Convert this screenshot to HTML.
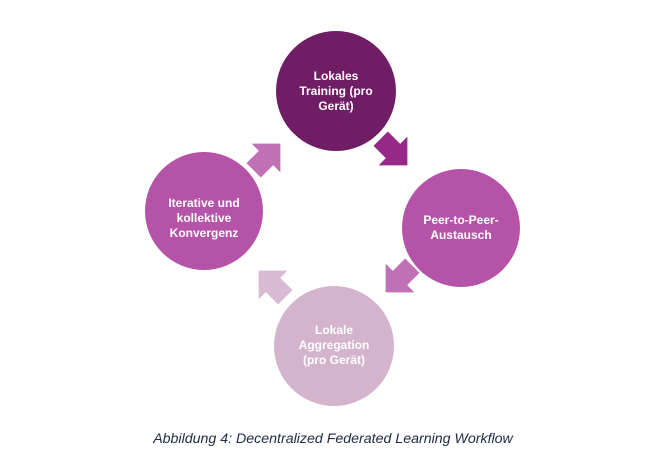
<!DOCTYPE html>
<html><head><meta charset="utf-8"><style>
body{margin:0;width:663px;height:471px;background:#fff;overflow:hidden}
</style></head><body>
<svg width="663" height="471" viewBox="0 0 663 471" xmlns="http://www.w3.org/2000/svg">
<defs>
<path id="ar" d="M-12,-7 L0,-7 L0,-14 L14,0 L0,14 L0,7 L-12,7 Z"/>
</defs>
<circle cx="336" cy="91" r="60" fill="#6f1d65"/>
<circle cx="461" cy="228" r="59" fill="#b553a8"/>
<circle cx="334" cy="346" r="60" fill="#d4b3cc"/>
<circle cx="204" cy="211" r="59" fill="#b553a8"/>
<use href="#ar" transform="translate(393,151) rotate(45) scale(1.45)" fill="#962887"/>
<use href="#ar" transform="translate(400,278) rotate(135) scale(1.45)" fill="#c070b5"/>
<use href="#ar" transform="translate(273,285) rotate(-135) scale(1.45)" fill="#d8bbd2"/>
<use href="#ar" transform="translate(266,158) rotate(-45) scale(1.45)" fill="#c070b5"/>
<g font-family="Liberation Sans, sans-serif" font-weight="bold" font-size="12" fill="#fff" text-anchor="middle">
<text x="336" y="80">Lokales</text>
<text x="336" y="95">Training (pro</text>
<text x="336" y="110">Gerät)</text>
<text x="461" y="224">Peer-to-Peer-</text>
<text x="461" y="239">Austausch</text>
<text x="334" y="334">Lokale</text>
<text x="334" y="349">Aggregation</text>
<text x="334" y="364">(pro Gerät)</text>
<text x="204" y="207">Iterative und</text>
<text x="204" y="222">kollektive</text>
<text x="204" y="237">Konvergenz</text>
</g>
<text x="333" y="443" font-family="Liberation Sans, sans-serif" font-style="italic" font-size="14.2" fill="#1f2a44" text-anchor="middle">Abbildung 4: Decentralized Federated Learning Workflow</text>
</svg>
</body></html>
